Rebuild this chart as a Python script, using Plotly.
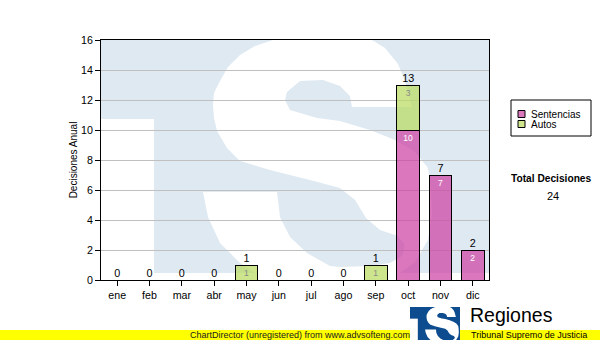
import plotly.graph_objects as go

# ---------------- data ----------------
months = ["ene", "feb", "mar", "abr", "may", "jun", "jul", "ago", "sep", "oct", "nov", "dic"]
sentencias = [0, 0, 0, 0, 0, 0, 0, 0, 0, 10, 7, 2]
autos = [0, 0, 0, 0, 1, 0, 0, 0, 1, 3, 0, 0]
series_names = ["Sentencias", "Autos"]
y_tick_values = [0, 2, 4, 6, 8, 10, 12, 14, 16]
y_title = "Decisiones Anual"
total_title = "Total Decisiones"
footer_text = "ChartDirector (unregistered) from www.advsofteng.com"
logo_title = "Regiones"
logo_subtitle = "Tribunal Supremo de Justicia"

# ---------------- styles ----------------
series_colors = ["rgba(205,66,162,0.72)", "rgba(186,219,95,0.72)"]
swatch_colors = ["rgb(219,120,189)", "rgb(207,230,143)"]
inner_label_colors = ["#ffffff", "#8a8a8a"]
FONT = "Liberation Sans, Arial, sans-serif"
WATER = "#dfe9f2"

totals = [s + a for s, a in zip(sentencias, autos)]
grand_total = sum(totals)

# plot area in pixels
L, R, T, B = 101, 489, 40, 280
W, H = 600, 340


def px2paper(px, py):
    return (px - L) / (R - L), (B - py) / (B - T)


def pstr(px, py):
    x, y = px2paper(px, py)
    return f"{x:.5f},{y:.5f}"


# outline of the white "S" of the watermark (pixel coordinates)
S_OUTLINE = [
    (412, 107), (405, 81), (398, 64), (385, 48), (372, 40), (273, 40),
    (255, 46), (240, 55), (228, 67), (220, 81), (214, 93), (213, 105),
    (214, 118), (217, 131), (227, 148), (240, 161),
    (270, 170), (310, 180), (340, 188), (355, 200), (366, 218), (380, 230),
    (398, 236), (405, 245), (402, 256), (390, 263), (370, 266), (340, 267),
    (330, 266), (307, 253), (290, 237), (280, 217), (277, 192),
    (203, 192), (208, 217), (220, 243), (240, 263), (255, 273),
    (400, 273), (415, 262), (428, 240), (432, 215), (431, 190), (428, 168),
    (415, 152), (395, 140), (370, 130), (340, 121), (317, 118), (290, 110),
    (285, 100), (287, 92), (300, 81), (323, 80), (340, 86), (350, 96), (352, 107),
]


def poly_path(points):
    return "M " + " L ".join(pstr(px, py) for px, py in points) + " Z"


def rect(px0, py0, px1, py1, color, layer="below", line=None):
    x0, y0 = px2paper(px0, py1)
    x1, y1 = px2paper(px1, py0)
    d = dict(type="rect", xref="paper", yref="paper", x0=x0, y0=y0, x1=x1, y1=y1,
             fillcolor=color, layer=layer, line=dict(width=0))
    if line:
        d["line"] = line
    return d


shapes = []
# watermark
shapes.append(rect(L, T, R, 273, WATER))
shapes.append(rect(L, 119, 154, 273, "white"))
shapes.append(dict(type="path", xref="paper", yref="paper", path=poly_path(S_OUTLINE),
                   fillcolor="white", line=dict(width=0), layer="below"))
shapes.append(rect(L, 273, R, B, "white"))

# footer yellow band
shapes.append(rect(0, 330, W, 341, "#ffff00", layer="above"))

# small logo (same geometry scaled)
s = 50 / 339.0


def lg(px, py):
    return (410 + (px - L) * s, 307 + (py - T) * s)


shapes.append(rect(410, 307, 460, 341, "#0d4c8e", layer="above"))
shapes.append(rect(410, lg(0, 119)[1], lg(154, 0)[0], 341, "white", layer="above"))
shapes.append(dict(type="path", xref="paper", yref="paper",
                   path=poly_path([lg(px, py) for px, py in S_OUTLINE]),
                   fillcolor="white", line=dict(width=0), layer="above"))

# manual legend
shapes.append(rect(511, 100, 591, 136, "white", layer="above",
                   line=dict(color="black", width=1)))
annotations = []
for i, (name, col) in enumerate(zip(series_names, swatch_colors)):
    cy = 114 + 10 * i
    shapes.append(rect(518, cy - 3.5, 525, cy + 3.5, col, layer="above",
                       line=dict(color="black", width=1)))
    x, y = px2paper(529, cy)
    annotations.append(dict(xref="paper", yref="paper", x=x, y=y, xanchor="left",
                            yanchor="middle", text=name, showarrow=False,
                            font=dict(family=FONT, size=10, color="black")))

x, y = px2paper(551, 178)
annotations.append(dict(xref="paper", yref="paper", x=x, y=y, text=f"<b>{total_title}</b>",
                        showarrow=False, xanchor="center", yanchor="middle",
                        font=dict(family=FONT, size=10.2, color="black")))
x, y = px2paper(553, 196)
annotations.append(dict(xref="paper", yref="paper", x=x, y=y, text=str(grand_total),
                        showarrow=False, xanchor="center", yanchor="middle",
                        font=dict(family=FONT, size=11, color="black")))
x, y = px2paper(300, 335)
annotations.append(dict(xref="paper", yref="paper", x=x, y=y, text=footer_text,
                        showarrow=False, xanchor="center", yanchor="middle",
                        font=dict(family=FONT, size=9, color="#202020")))
x, y = px2paper(468, 315)
annotations.append(dict(xref="paper", yref="paper", x=x, y=y, text=logo_title,
                        showarrow=False, xanchor="left", yanchor="middle",
                        font=dict(family=FONT, size=19.5, color="black")))
x, y = px2paper(470, 335)
annotations.append(dict(xref="paper", yref="paper", x=x, y=y, text=logo_subtitle,
                        showarrow=False, xanchor="left", yanchor="middle", borderpad=0,
                        font=dict(family=FONT, size=9, color="black")))

fig = go.Figure()
for vals, name, col, lcol in zip([sentencias, autos], series_names, series_colors,
                                 inner_label_colors):
    fig.add_trace(go.Bar(
        x=months, y=[v if v else None for v in vals], name=name,
        marker=dict(color=col, line=dict(color="black", width=1)),
        text=[str(v) if v else "" for v in vals], textposition="inside",
        insidetextanchor="end", textangle=0, constraintext="none",
        textfont=dict(family=FONT, size=8.5, color=lcol), showlegend=False,
    ))

fig.add_trace(go.Scatter(
    x=months, y=totals, mode="text", text=[str(t) for t in totals],
    textposition="top center", cliponaxis=False, showlegend=False,
    textfont=dict(family=FONT, size=10.8, color="black"),
))

fig.update_layout(
    width=W, height=H, margin=dict(l=L, r=W - R, t=T, b=H - B, autoexpand=False),
    paper_bgcolor="white", plot_bgcolor="white", barmode="stack", bargap=0.29,
    showlegend=False, shapes=shapes, annotations=annotations,
    font=dict(family=FONT, size=10.67, color="black"),
    xaxis=dict(type="category", range=[-0.5, 11.5], showline=True, linecolor="black",
               linewidth=1, mirror=True, ticks="outside", ticklen=5, tickcolor="black",
               showgrid=False, tickfont=dict(size=10.67, color="black")),
    yaxis=dict(range=[0, 16], tickvals=y_tick_values, showline=True, linecolor="black",
               linewidth=1, mirror=True, ticks="outside", ticklen=5, tickcolor="black",
               showgrid=True, gridcolor="#c0c0c0", gridwidth=1, zeroline=False,
               tickfont=dict(size=10.67, color="black"),
               title=dict(text=y_title, standoff=1, font=dict(size=10, color="black"))),
)

fig.write_html("out.html")
